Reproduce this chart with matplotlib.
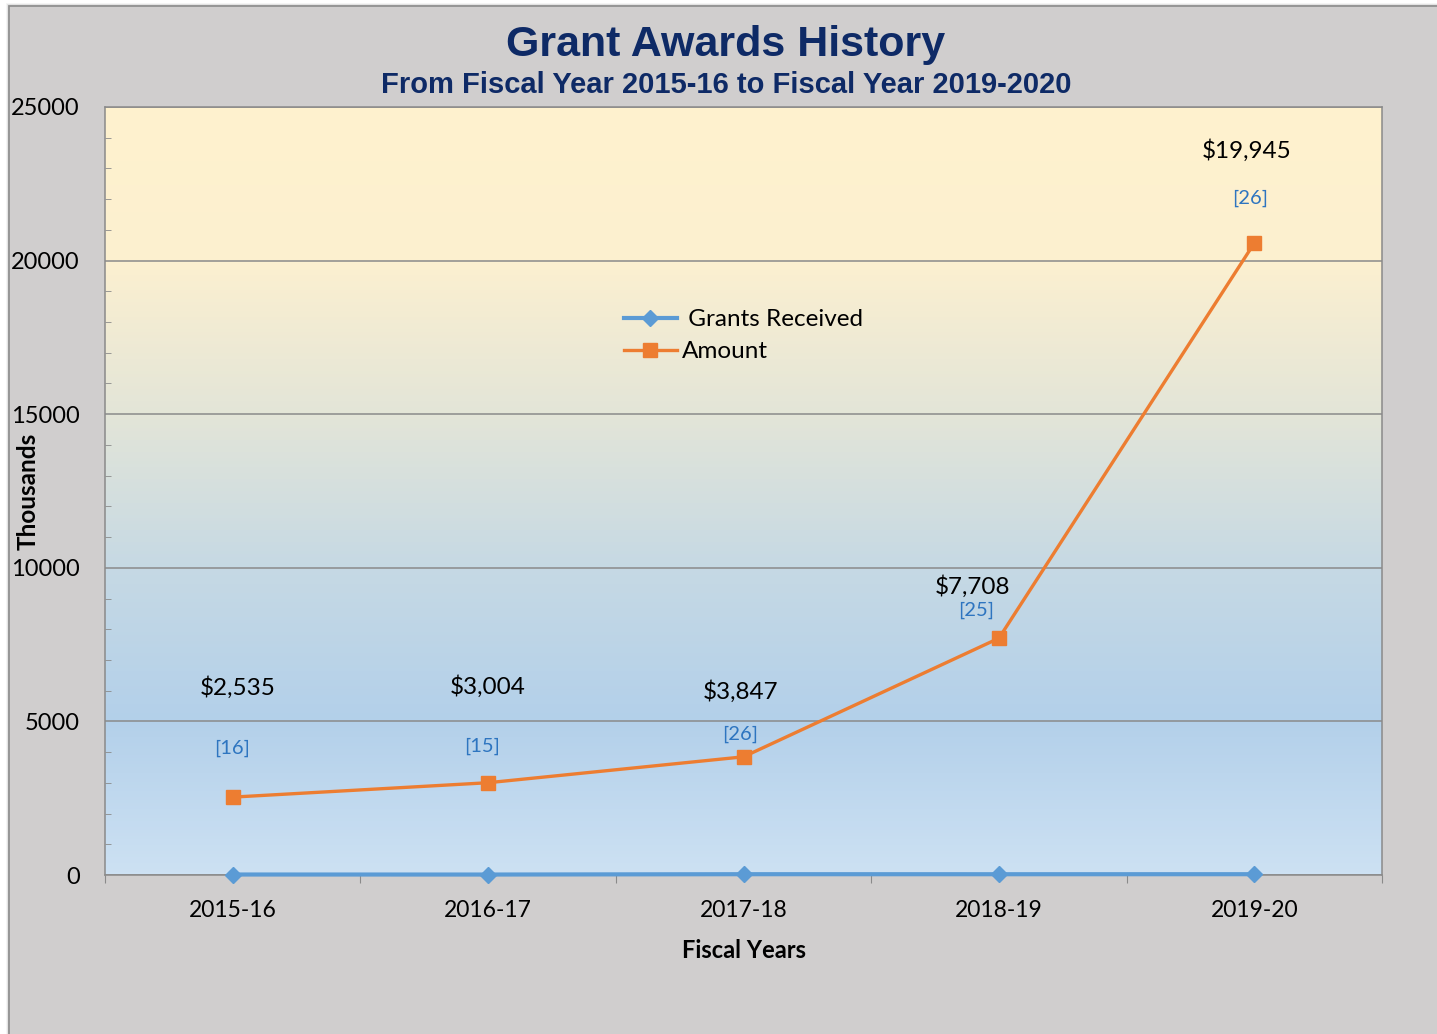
import numpy as np
import matplotlib.pyplot as plt
from matplotlib.colors import LinearSegmentedColormap
from matplotlib.patches import Rectangle
from matplotlib.lines import Line2D

# ------------------------------------------------------------------ data
years = ["2015-16", "2016-17", "2017-18", "2018-19", "2019-20"]
amount = [2535, 3004, 3847, 7708, 20570]          # plotted (thousands)
amount_labels = ["$2,535", "$3,004", "$3,847", "$7,708", "$19,945"]
grants = [16, 15, 26, 25, 26]
grant_labels = ["[16]", "[15]", "[26]", "[25]", "[26]"]

# label placement (data coords)
amt_dx = [0.02, 0.0, -0.01, -0.105, -0.03]
amt_y = [6090, 6120, 5960, 9380, 23570]
grant_dx = [-0.004, -0.024, -0.012, -0.09, -0.016]
grant_y = [4130, 4200, 4590, 8630, 22040]

ORANGE = "#ed7d31"
BLUE = "#5b9bd5"
NAVY = "#0e2a66"
FRAME = "#d0cece"
FONT = "Lato"

W, H = 1437, 1034
fig = plt.figure(figsize=(W / 100, H / 100), dpi=100)
fig.patch.set_facecolor("white")

# outer chart frame with a soft shadow on the left / top
for i, a in enumerate([0.08, 0.15, 0.25]):
    fig.add_artist(Rectangle(((6 + i) / W, 0), 1, 1 - (3 + i) / H,
                             transform=fig.transFigure, facecolor="#808080",
                             alpha=a, edgecolor="none", zorder=0))
fig.add_artist(Rectangle((9 / W, -0.01), 1.1, 1.01 - 6 / H,
                         transform=fig.transFigure, facecolor=FRAME,
                         edgecolor="#8c8c8c", linewidth=1.2, zorder=0))

ax = fig.add_axes([105 / W, 1 - 875 / H, 1277 / W, 768 / H])
x = np.arange(len(years))

# gradient plot-area fill
stops = [(0.0, "#cde1f3"), (0.2, "#b3d0ea"), (0.4, "#c6d9e4"),
         (0.6, "#e3e5d8"), (0.8, "#fcf0d0"), (1.0, "#fff2ce")]
cmap = LinearSegmentedColormap.from_list("bg", stops)
grad = np.linspace(0, 1, 256).reshape(-1, 1)
ax.imshow(grad, cmap=cmap, origin="lower", aspect="auto",
          extent=(-0.5, 4.5, 0, 25000), zorder=0)

ax.set_xlim(-0.5, 4.5)
ax.set_ylim(0, 25000)
ax.set_yticks(np.arange(0, 25001, 5000))
ax.set_yticks(np.arange(0, 25001, 1000), minor=True)
ax.yaxis.grid(True, which="major", color="#8a8a8a", linewidth=1.1, zorder=1)
ax.tick_params(axis="y", which="major", length=0, pad=18, labelsize=17)
ax.tick_params(axis="y", which="minor", direction="in", length=4,
               color="#8a8a8a")
for lab in ax.get_yticklabels():
    lab.set_fontfamily(FONT)

ax.set_xticks(np.arange(-0.5, 4.6, 1.0))
ax.set_xticklabels([])
ax.set_xticks(x, minor=True)
ax.set_xticklabels(years, minor=True, fontsize=16.5, fontfamily=FONT)
ax.tick_params(axis="x", which="major", direction="out", length=6,
               color="#8a8a8a")
ax.tick_params(axis="x", which="minor", length=0, pad=18)
for s in ax.spines.values():
    s.set_color("#8a8a8a")
    s.set_linewidth(1.1)

ax.plot(x, grants, color=BLUE, linewidth=3, marker="D", markersize=8,
        clip_on=False, zorder=3)
ax.plot(x, amount, color=ORANGE, linewidth=2.4, marker="s", markersize=10,
        zorder=4)

for i in range(len(years)):
    ax.text(x[i] + amt_dx[i], amt_y[i], amount_labels[i], ha="center",
            va="center", fontsize=17.5, fontfamily=FONT, color="black")
    ax.text(x[i] + grant_dx[i], grant_y[i], grant_labels[i], ha="center",
            va="center", fontsize=14.5, fontfamily=FONT, color="#2e75c0")

handles = [Line2D([], [], color=BLUE, linewidth=3, marker="D", markersize=8),
           Line2D([], [], color=ORANGE, linewidth=2.4, marker="s",
                  markersize=10)]
leg = ax.legend(handles, [" Grants Received", "Amount"], loc="upper left",
                bbox_to_anchor=(0.389, 0.765), frameon=False,
                handlelength=2.2, handletextpad=0.2, labelspacing=0.45,
                prop={"family": FONT, "size": 17.5})

ax.set_ylabel("Thousands", fontsize=17.5, fontweight="bold", fontfamily=FONT)
ax.yaxis.set_label_coords(-0.051, 0.5)
ax.set_xlabel("Fiscal Years", fontsize=17, fontweight="bold",
              fontfamily=FONT)
ax.xaxis.set_label_coords(0.5, -0.083)

fig.text(726 / W, 1 - 45 / H, "Grant Awards History", ha="center",
         va="center", fontsize=31, fontweight="bold",
         fontfamily="Liberation Sans", color=NAVY)
fig.text(726 / W, 1 - 85 / H,
         "From Fiscal Year 2015-16 to Fiscal Year 2019-2020", ha="center",
         va="center", fontsize=21, fontweight="bold",
         fontfamily="Liberation Sans", color=NAVY)

fig.savefig("out.png", dpi=100)
